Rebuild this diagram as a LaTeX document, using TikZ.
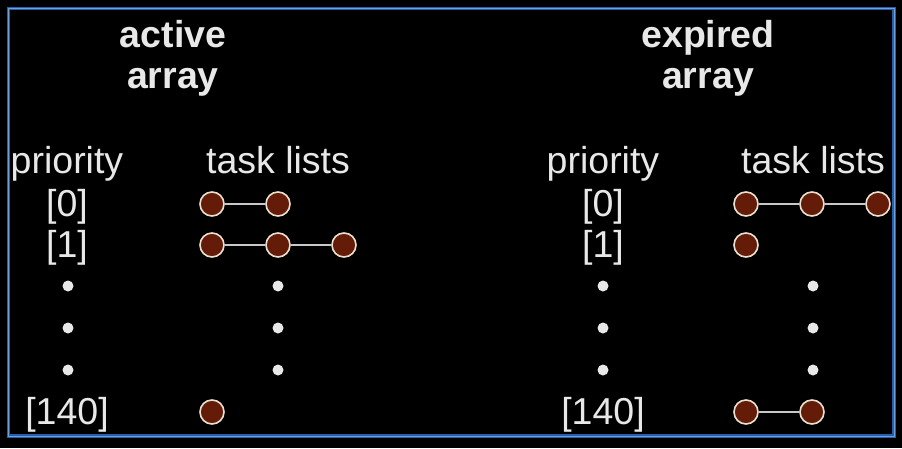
\documentclass[tikz,border=0pt]{standalone}
\usepackage{fontspec}
\setmainfont{Liberation Sans}
\definecolor{bordblue}{RGB}{40,95,170}
\definecolor{bordlight}{RGB}{110,160,220}
\definecolor{txtgray}{RGB}{232,232,232}
\definecolor{taskfill}{RGB}{100,28,8}
\definecolor{taskedge}{RGB}{235,225,210}
\definecolor{linkgray}{RGB}{200,200,200}
\tikzset{
  hdr/.style={text=txtgray,anchor=base,inner sep=0pt,font=\fontsize{37.5}{40}\selectfont\bfseries},
  lbl/.style={text=txtgray,anchor=base,inner sep=0pt,font=\fontsize{37.5}{40}\selectfont},
  task/.style={circle,draw=taskedge,line width=1.6pt,fill=taskfill,minimum size=24pt,inner sep=0pt},
  vdot/.style={circle,fill=txtgray,minimum size=11pt,inner sep=0pt},
  link/.style={draw=linkgray,line width=2pt}
}
\begin{document}
\begin{tikzpicture}[x=1pt,y=-1pt]
\fill[black] (0,0) rectangle (902,448);
\useasboundingbox (0,0) rectangle (902,448);
\draw[bordblue,line width=3.5pt] (8.5,8.5) rectangle (894,436);
\draw[bordlight,line width=0.8pt] (8.5,8.5) rectangle (894,436);
% headers
\node[hdr] (h1a) at (173,47) {active};
\node[hdr] (h1b) at (173,88) {array};
\node[hdr] (h2a) at (708,47) {expired};
\node[hdr] (h2b) at (708,88) {array};
% active column labels
\node[lbl] (pa) at (67,173) {priority};
\node[lbl] (ta) at (278,173) {task lists};
\node[lbl] (a0) at (67,216) {[0]};
\node[lbl] (a1) at (67,257) {[1]};
\node[lbl] (a140) at (67,424) {[140]};
\node[vdot] (ad1) at (68,286) {};
\node[vdot] (ad2) at (68,328) {};
\node[vdot] (ad3) at (68,370) {};
\node[vdot] (at1) at (278,286) {};
\node[vdot] (at2) at (278,328) {};
\node[vdot] (at3) at (278,370) {};
% active tasks
\node[task] (a0x) at (212,204) {};
\node[task] (a0y) at (278,204) {};
\node[task] (a1x) at (212,245) {};
\node[task] (a1y) at (278,245) {};
\node[task] (a1z) at (344,245) {};
\node[task] (a140x) at (212,412) {};
\draw[link] (a0x) -- (a0y);
\draw[link] (a1x) -- (a1y);
\draw[link] (a1y) -- (a1z);
% expired column labels
\node[lbl] (pe) at (603,173) {priority};
\node[lbl] (te) at (813,173) {task lists};
\node[lbl] (e0) at (603,216) {[0]};
\node[lbl] (e1) at (603,257) {[1]};
\node[lbl] (e140) at (603,424) {[140]};
\node[vdot] (ed1) at (603,286) {};
\node[vdot] (ed2) at (603,328) {};
\node[vdot] (ed3) at (603,370) {};
\node[vdot] (et1) at (813,286) {};
\node[vdot] (et2) at (813,328) {};
\node[vdot] (et3) at (813,370) {};
% expired tasks
\node[task] (e0x) at (746,204) {};
\node[task] (e0y) at (812,204) {};
\node[task] (e0z) at (878,204) {};
\node[task] (e1x) at (746,245) {};
\node[task] (e140x) at (746,412) {};
\node[task] (e140y) at (812,412) {};
\draw[link] (e0x) -- (e0y);
\draw[link] (e0y) -- (e0z);
\draw[link] (e140x) -- (e140y);
\end{tikzpicture}
\end{document}
